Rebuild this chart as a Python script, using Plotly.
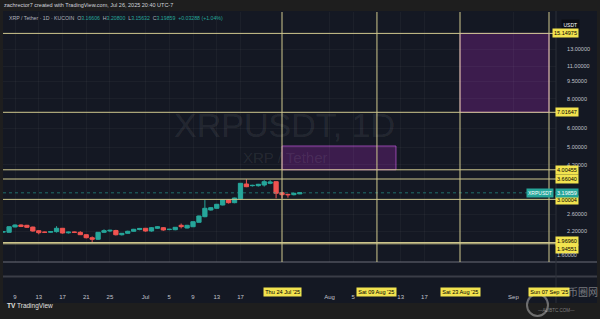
import math
import pandas as pd
import plotly.graph_objects as go

# ---------------- data ----------------
dates = pd.date_range("2025-06-07", "2025-07-27", freq="D").strftime("%Y-%m-%d").tolist()
opens = [2.180, 2.176, 2.292, 2.337, 2.330, 2.290, 2.210, 2.180, 2.178, 2.190,
         2.263, 2.165, 2.182, 2.175, 2.126, 2.064, 2.033, 2.176, 2.205, 2.215,
         2.125, 2.155, 2.198, 2.235, 2.263, 2.204, 2.263, 2.276, 2.235, 2.232,
         2.330, 2.269, 2.298, 2.399, 2.534, 2.705, 2.750, 2.840, 2.982, 2.905,
         3.020, 3.486, 3.430, 3.429, 3.452, 3.510, 3.565, 3.202, 3.150, 3.141,
         3.16606]
highs = [2.200, 2.310, 2.350, 2.350, 2.340, 2.300, 2.220, 2.190, 2.200, 2.310,
         2.270, 2.190, 2.190, 2.200, 2.130, 2.090, 2.180, 2.240, 2.230, 2.230,
         2.160, 2.210, 2.250, 2.270, 2.270, 2.290, 2.310, 2.290, 2.250, 2.290,
         2.370, 2.340, 2.420, 2.560, 2.980, 2.780, 2.870, 2.990, 3.000, 3.050,
         3.520, 3.650, 3.460, 3.490, 3.620, 3.620, 3.580, 3.210, 3.170, 3.200,
         3.20800]
lows = [2.170, 2.170, 2.285, 2.290, 2.270, 2.190, 2.134, 2.160, 2.170, 2.170,
        2.150, 2.150, 2.160, 2.120, 2.050, 1.966, 2.020, 2.160, 2.180, 2.110,
        2.110, 2.150, 2.190, 2.220, 2.190, 2.190, 2.250, 2.210, 2.220, 2.220,
        2.260, 2.260, 2.290, 2.390, 2.520, 2.690, 2.740, 2.830, 2.880, 2.890,
        3.000, 3.380, 3.400, 3.400, 3.400, 3.480, 3.032, 3.030, 3.050, 3.120,
        3.15632]
closes = [2.190, 2.298, 2.337, 2.305, 2.285, 2.204, 2.168, 2.176, 2.190, 2.263,
          2.161, 2.180, 2.175, 2.126, 2.064, 2.033, 2.176, 2.211, 2.219, 2.125,
          2.155, 2.198, 2.241, 2.260, 2.204, 2.276, 2.298, 2.226, 2.241, 2.285,
          2.300, 2.330, 2.413, 2.551, 2.750, 2.767, 2.860, 2.982, 2.905, 3.041,
          3.510, 3.395, 3.440, 3.476, 3.565, 3.555, 3.184, 3.141, 3.140, 3.184,
          3.19859]

last_price = 3.19859
level_values = [15.14975, 7.01647, 4.00455, 3.66040, 3.00004, 1.96960, 1.94551]
level_texts = ["15.14975", "7.01647", "4.00455", "3.66040", "3.00004", "1.96960", "1.94551"]
level_label_shift = [0, 0, 0, 0, -1, 1.5, -5.5]

vline_dates = ["2025-07-24", "2025-08-09", "2025-08-23", "2025-09-07"]
vline_labels = ["Thu 24 Jul '25", "Sat 09 Aug '25", "Sat 23 Aug '25", "Sun 07 Sep '25"]

zone_x0 = ["2025-08-23", "2025-07-24"]
zone_x1 = ["2025-09-07", "2025-08-12 05:00"]
zone_y0 = [7.01647, 4.00455]
zone_y1 = [15.14975, 5.05]

ytick_vals = [13, 11, 9.5, 8, 6, 5, 4.2, 2.6, 2.2]
ytick_text = ["13.00000", "11.00000", "9.50000", "8.00000", "6.00000",
              "5.00000", "4.20000", "2.60000", "2.20000"]
xtick_dates = ["2025-06-09", "2025-06-13", "2025-06-17", "2025-06-21", "2025-06-25",
               "2025-07-01", "2025-07-05", "2025-07-09", "2025-07-13", "2025-07-17",
               "2025-08-01", "2025-08-05", "2025-08-13", "2025-08-17", "2025-09-01"]
xtick_text = ["9", "13", "17", "21", "25", "Jul", "5", "9", "13", "17",
              "Aug", "5", "13", "17", "Sep"]

# ---------------- style ----------------
W, H = 600, 319
ML, MR, MT, MB = 3, 44, 12, 57
PW, PH = W - ML - MR, H - MT - MB
NAVY = "#141823"
FRAME = "#1e1e1e"
UP = "#26a69a"
DOWN = "#ef5350"
YEL = "#cfc88e"
YEL_BOX = "#f2e34f"
FONT = "Liberation Sans, Arial, sans-serif"


def px_x(px):
    return (px - ML) / PW


def px_y(py):
    return (H - MB - py) / PH


fig = go.Figure()
fig.add_trace(go.Candlestick(
    x=dates, open=opens, high=highs, low=lows, close=closes,
    increasing=dict(line=dict(color=UP, width=1), fillcolor=UP),
    decreasing=dict(line=dict(color=DOWN, width=1), fillcolor=DOWN),
    whiskerwidth=0, showlegend=False, hoverinfo="skip",
))

shapes = []
# background panels
shapes.append(dict(type="rect", xref="paper", yref="paper", layer="below",
                   x0=px_x(3), x1=px_x(597), y0=px_y(303), y1=px_y(11),
                   fillcolor=NAVY, line=dict(width=0)))
# pane separators
shapes.append(dict(type="line", xref="paper", yref="paper", x0=px_x(3), x1=px_x(597),
                   y0=px_y(262), y1=px_y(262), line=dict(color="#6a6d78", width=1)))
shapes.append(dict(type="line", xref="paper", yref="paper", x0=px_x(3), x1=px_x(597),
                   y0=px_y(276.5), y1=px_y(276.5), line=dict(color="#3a3d47", width=2)))
shapes.append(dict(type="line", xref="paper", yref="paper", x0=px_x(556), x1=px_x(556),
                   y0=px_y(303), y1=px_y(11), line=dict(color="#2a2e39", width=1)))

# zones
for x0, x1, y0, y1 in zip(zone_x0, zone_x1, zone_y0, zone_y1):
    shapes.append(dict(type="rect", xref="x", yref="y", layer="below",
                       x0=x0, x1=x1, y0=y0, y1=y1,
                       fillcolor="rgba(156,39,176,0.30)",
                       line=dict(color="rgba(186,85,211,0.75)", width=1)))
# horizontal levels
for v in level_values:
    shapes.append(dict(type="line", xref="paper", yref="y", x0=0, x1=1 + 10 / PW,
                       y0=v, y1=v, line=dict(color=YEL, width=1)))
# last price line
shapes.append(dict(type="line", xref="paper", yref="y", x0=0, x1=1,
                   y0=last_price, y1=last_price,
                   line=dict(color="rgba(38,166,154,0.6)", width=1, dash="dot")))
# vertical lines
for d in vline_dates:
    shapes.append(dict(type="line", xref="x", yref="paper", x0=d, x1=d, y0=0, y1=1,
                       line=dict(color=YEL, width=1)))
# site watermark circle
shapes.append(dict(type="circle", xref="paper", yref="paper",
                   x0=px_x(527), x1=px_x(548), y0=px_y(316), y1=px_y(294),
                   line=dict(color="rgba(210,210,210,0.45)", width=2)))

ann = []
# header
ann.append(dict(xref="paper", yref="paper", x=px_x(2), y=px_y(5.5), xanchor="left",
                yanchor="middle", showarrow=False,
                text="zachrector7 created with TradingView.com, Jul 26, 2025 20:40 UTC-7",
                font=dict(size=5.5, color="#d1d4dc", family=FONT)))
# legend line
leg = ("XRP / Tether · 1D · KUCOIN  "
       f"O<span style='color:{UP}'>3.16606</span>  "
       f"H<span style='color:{UP}'>3.20800</span>  "
       f"L<span style='color:{UP}'>3.15632</span>  "
       f"C<span style='color:{UP}'>3.19859</span>  "
       f"<span style='color:{UP}'>+0.03288 (+1.04%)</span>")
ann.append(dict(xref="paper", yref="paper", x=px_x(7), y=px_y(17.5), xanchor="left",
                yanchor="middle", showarrow=False, text=leg,
                font=dict(size=5.2, color="#b2b5be", family=FONT)))
# watermark
ann.append(dict(xref="paper", yref="paper", x=px_x(284), y=px_y(125), showarrow=False,
                text="XRPUSDT, 1D", font=dict(size=34, color="rgba(255,255,255,0.085)", family=FONT)))
ann.append(dict(xref="paper", yref="paper", x=px_x(285), y=px_y(157), showarrow=False,
                text="XRP / Tether", font=dict(size=15, color="rgba(255,255,255,0.085)", family=FONT)))
# USDT label
ann.append(dict(xref="paper", yref="paper", x=1, xshift=24, y=px_y(18.5), showarrow=False,
                text="USDT", bgcolor="#0c0e14", borderpad=1.5,
                font=dict(size=5, color="#ffffff", family=FONT)))
# level labels
for v, t, s in zip(level_values, level_texts, level_label_shift):
    ann.append(dict(xref="paper", yref="y", x=1, xshift=22.5, y=math.log10(v), yshift=s,
                    showarrow=False, text=t, bgcolor=YEL_BOX, borderpad=1,
                    font=dict(size=5.5, color="#000000", family=FONT)))
# last price labels
ann.append(dict(xref="paper", yref="y", x=1, xshift=22.5, y=math.log10(last_price),
                showarrow=False, text=f"{last_price:.5f}", bgcolor=UP, borderpad=1,
                font=dict(size=5.5, color="#ffffff", family=FONT)))
ann.append(dict(xref="paper", yref="y", x=1, xshift=-2.5, y=math.log10(last_price),
                showarrow=False, text="XRPUSDT", bgcolor=UP, borderpad=1,
                font=dict(size=5, color="#ffffff", family=FONT)))
# 1.6 tick (at pane bottom)
ann.append(dict(xref="paper", yref="paper", x=1, xshift=22.5, y=px_y(259.5),
                showarrow=False, text="1.60000",
                font=dict(size=5.5, color="#c0c3cc", family=FONT)))
# highlighted date labels
for d, t in zip(vline_dates, vline_labels):
    ann.append(dict(xref="x", yref="paper", x=d, y=px_y(297), showarrow=False,
                    text=t, bgcolor=YEL_BOX, borderpad=1.2,
                    font=dict(size=5.6, color="#000000", family=FONT)))
# bottom bar
ann.append(dict(xref="paper", yref="paper", x=px_x(5), y=px_y(311.5), xanchor="left",
                showarrow=False, text="<b>TV</b> TradingView",
                font=dict(size=6.5, color="#e0e0e0", family=FONT)))
# site watermark text
ann.append(dict(xref="paper", yref="paper", x=px_x(600), y=px_y(301), xanchor="right",
                showarrow=False, text="币圈网",
                font=dict(size=10, color="rgba(220,220,220,0.5)", family="Noto Sans CJK SC")))
ann.append(dict(xref="paper", yref="paper", x=px_x(577), y=px_y(314.5), showarrow=False,
                text="—ALIBTC.COM—", font=dict(size=4.5, color="rgba(220,220,220,0.5)",
                                              family=FONT)))

fig.update_layout(
    width=W, height=H,
    margin=dict(l=ML, r=MR, t=MT, b=MB, pad=0),
    paper_bgcolor=FRAME, plot_bgcolor=NAVY,
    shapes=shapes, annotations=ann,
    showlegend=False, boxgap=0.1, boxgroupgap=0.2,
    xaxis=dict(type="date", range=["2025-06-06 23:20", "2025-09-08 04:20"],
               rangeslider=dict(visible=False), tickmode="array",
               tickvals=xtick_dates, ticktext=xtick_text,
               ticks="outside", ticklen=29, tickcolor="rgba(0,0,0,0)",
               tickfont=dict(size=6, color="#c0c3cc", family=FONT),
               showgrid=True, gridcolor="rgba(255,255,255,0.035)", gridwidth=1,
               zeroline=False, showline=False, fixedrange=True),
    yaxis=dict(type="log", range=[0.21185, 1.27109], side="right",
               tickmode="array", tickvals=ytick_vals, ticktext=ytick_text,
               ticks="outside", ticklen=9, tickcolor="rgba(0,0,0,0)",
               tickfont=dict(size=5.5, color="#c0c3cc", family=FONT),
               showgrid=True, gridcolor="rgba(255,255,255,0.035)", gridwidth=1,
               zeroline=False, showline=False, fixedrange=True),
)

fig.write_html("out.html")
